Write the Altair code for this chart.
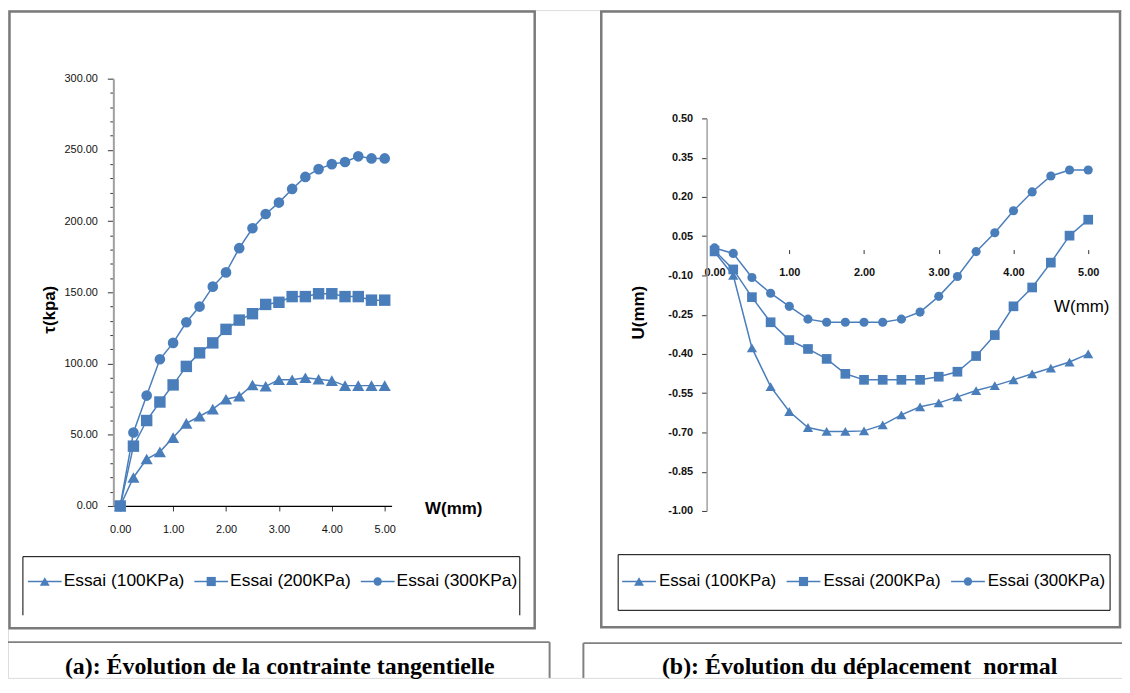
import altair as alt
import pandas as pd

# ---------------- data ----------------
W = [0.00, 0.25, 0.50, 0.75, 1.00, 1.25, 1.50, 1.75, 2.00, 2.25, 2.50,
     2.75, 3.00, 3.25, 3.50, 3.75, 4.00, 4.25, 4.50, 4.75, 5.00]
SERIES = ["Essai (100KPa)", "Essai (200KPa)", "Essai (300KPa)"]
SHAPES = ["triangle-up", "square", "circle"]

TAU_100 = [0, 20, 33, 38, 48, 58, 63, 68, 75, 77, 85, 84, 88.6, 88.6, 90, 89, 88, 84.5, 84.5, 84.5, 84.5]
TAU_200 = [0, 42, 60, 73, 85, 98, 107.5, 114.5, 124, 130.5, 135, 141.5, 143, 147, 147, 149, 149, 147, 147, 144.5, 144.5]
TAU_300 = [0, 51.6, 77.5, 103, 114.5, 129, 140, 154, 164, 181, 195, 205, 213, 222.6, 231, 236.5, 240, 241.5, 245.5, 244, 244]

U_100 = [-0.01, -0.10, -0.377, -0.525, -0.62, -0.681, -0.696, -0.696, -0.694, -0.671, -0.633,
         -0.602, -0.587, -0.564, -0.54, -0.521, -0.499, -0.476, -0.454, -0.431, -0.40]
U_200 = [-0.005, -0.077, -0.183, -0.279, -0.347, -0.381, -0.419, -0.476, -0.499, -0.499, -0.499,
         -0.499, -0.487, -0.468, -0.408, -0.328, -0.218, -0.146, -0.051, 0.052, 0.113]
U_300 = [0.005, -0.016, -0.108, -0.168, -0.218, -0.267, -0.279, -0.279, -0.279, -0.279, -0.267,
         -0.24, -0.18, -0.104, -0.009, 0.063, 0.147, 0.219, 0.28, 0.303, 0.303]

TAU_TICKS = [0, 50, 100, 150, 200, 250, 300]
TAU_MINOR = [v for v in range(10, 300, 10) if v % 50 != 0]
U_TICKS = [-1.0, -0.85, -0.7, -0.55, -0.4, -0.25, -0.1, 0.05, 0.2, 0.35, 0.5]
W_TICKS = [0, 1, 2, 3, 4, 5]

CAPTION_A = "(a): Évolution de la contrainte tangentielle"
CAPTION_B = "(b): Évolution du déplacement\u00a0 normal"

BLUE = "#4a7ebb"
FONT = "Liberation Sans"
SERIF = "Liberation Serif"

WIDTH, HEIGHT = 1121, 672
M = 8  # page margin


def px(v):
    return v - M


def py(v):
    return v - M


def long(values, col):
    rows = []
    for s, vals in zip(SERIES, values):
        for w, v in zip(W, vals):
            rows.append({"W": w, col: v, "series": s})
    return pd.DataFrame(rows)


dfA = long([TAU_100, TAU_200, TAU_300], "tau")
dfB = long([U_100, U_200, U_300], "U")
one = pd.DataFrame({"k": [0]})
leg_df = pd.DataFrame({"series": SERIES})

NEG_FMT = "datum.value < 0 ? '-' + format(-datum.value, '.2f') : format(datum.value, '.2f')"

# ---------------- panel (a) ----------------
scale_xA = alt.Scale(domain=[-0.13, 5.13], range=[px(114), px(394)], nice=False, zero=False)
scale_yA = alt.Scale(domain=[0, 300], range=[py(507), py(77)], nice=False, zero=False)

axis_xA = alt.Axis(orient="bottom", offset=py(507) - HEIGHT, values=W_TICKS, format=".2f",
                   title="W(mm)", titleX=px(456), titleY=3, titleAlign="center",
                   titleBaseline="middle", titleFontSize=17, titleFontWeight="bold",
                   titleFont=FONT, titleColor="#000",
                   domainColor="#000", domainWidth=1.3, tickColor="#333", tickSize=5,
                   labelPadding=13, labelFontSize=11, labelFont=FONT, labelColor="#111",
                   labelFlush=False, labelOverlap=False, grid=False)
axis_yA = alt.Axis(orient="left", offset=-px(114), values=TAU_TICKS, format=".2f",
                   title="τ(kpa)", titleX=50 - 114, titleY=py(309), titleAngle=270,
                   titleAlign="center", titleBaseline="middle", titleFontSize=17,
                   titleFontWeight="bold", titleFont=FONT, titleColor="#000",
                   domainColor="#a0a0a0", domainWidth=2, tickColor="#333", tickSize=6,
                   labelPadding=10, labelFontSize=11, labelFont=FONT, labelColor="#111",
                   labelFlush=False, labelOverlap=False, grid=False)

xA = alt.X("W:Q", scale=scale_xA, axis=axis_xA)
yA = alt.Y("tau:Q", scale=scale_yA, axis=axis_yA)

panelA = alt.layer(
    alt.Chart(dfA).mark_line(color=BLUE, strokeWidth=1.5).encode(x=xA, y=yA, detail="series:N"),
    alt.Chart(dfA).mark_point(filled=True, opacity=1, color=BLUE).encode(
        x=xA, y=yA,
        shape=alt.Shape("series:N", scale=alt.Scale(domain=SERIES, range=SHAPES), legend=None),
        size=alt.Size("series:O", scale=alt.Scale(domain=SERIES, range=[150, 115, 150]), legend=None),
    ),
)

minorA = alt.Chart(dfA).mark_point(opacity=0).encode(
    y=alt.Y("tau:Q", scale=scale_yA,
            axis=alt.Axis(orient="left", offset=-px(114), values=TAU_MINOR, labels=False,
                          domain=False, tickSize=3.5, tickColor="#333", title="", grid=False))
)

# ---------------- panel (b) ----------------
scale_xB = alt.Scale(domain=[0, 5], range=[px(719), px(1095)], nice=False, zero=False)
scale_yB = alt.Scale(domain=[-1, 0.5], range=[py(512), py(117)], nice=False, zero=False)

axis_xB = alt.Axis(orient="bottom", offset=py(249) - HEIGHT, values=W_TICKS, format=".2f",
                   title="W(mm)", titleX=px(1088), titleY=306 - 249, titleAlign="center",
                   titleBaseline="middle", titleFontSize=17, titleFontWeight="normal",
                   titleFont=FONT, titleColor="#000",
                   domain=False, tickColor="#333", tickSize=4,
                   labelPadding=13, labelFontSize=11, labelFont=FONT, labelColor="#111",
                   labelFontWeight="bold", labelFlush=False, labelOverlap=False, grid=False)
axis_yB = alt.Axis(orient="left", offset=-px(711), values=U_TICKS, labelExpr=NEG_FMT,
                   title="U(mm)", titleX=642 - 711, titleY=py(312), titleAngle=270,
                   titleAlign="center", titleBaseline="middle", titleFontSize=17,
                   titleFontWeight="bold", titleFont=FONT, titleColor="#000",
                   domainColor="#a0a0a0", domainWidth=1.5, tickColor="#333", tickSize=5,
                   labelPadding=9, labelFontSize=11, labelFont=FONT, labelColor="#111",
                   labelFontWeight="bold", labelFlush=False, labelOverlap=False, grid=False)

xB = alt.X("W:Q", scale=scale_xB, axis=axis_xB)
yB = alt.Y("U:Q", scale=scale_yB, axis=axis_yB)

panelB = alt.layer(
    alt.Chart(dfB).mark_line(color=BLUE, strokeWidth=1.5).encode(x=xB, y=yB, detail="series:N"),
    alt.Chart(dfB).mark_point(filled=True, opacity=1, color=BLUE).encode(
        x=xB, y=yB,
        shape=alt.Shape("series:N", scale=alt.Scale(domain=SERIES, range=SHAPES), legend=None),
        size=alt.Size("series:O", scale=alt.Scale(domain=SERIES, range=[105, 85, 110]), legend=None),
    ),
)


# ---------------- legends ----------------
def legend(x_first, x_last, y, dx, fsize):
    lx = alt.X("series:N", scale=alt.Scale(type="point", domain=SERIES,
                                           range=[px(x_first), px(x_last)], padding=0), axis=None)
    return alt.layer(
        alt.Chart(leg_df).mark_tick(orient="horizontal", size=34, thickness=1.5, color=BLUE,
                                    opacity=1).encode(x=lx, y=alt.value(py(y))),
        alt.Chart(leg_df).mark_point(filled=True, opacity=1, color=BLUE).encode(
            x=lx, y=alt.value(py(y)),
            shape=alt.Shape("series:N", scale=alt.Scale(domain=SERIES, range=SHAPES), legend=None),
            size=alt.Size("series:O", scale=alt.Scale(domain=SERIES, range=[100, 70, 80]), legend=None)),
        alt.Chart(leg_df).mark_text(align="left", baseline="middle", dx=dx, fontSize=fsize,
                                    font=FONT, color="#000").encode(
            x=lx, y=alt.value(py(y)), text="series:N"),
    )


legendA = legend(45, 380, 583, 19, 17.5)
legendB = legend(643, 974, 583, 20, 17)


# ---------------- decorations ----------------
def rect(x1, y1, x2, y2, color, width):
    return alt.Chart(one).mark_rect(fillOpacity=0, stroke=color, strokeWidth=width).encode(
        x=alt.value(px(x1)), x2=alt.value(px(x2)), y=alt.value(py(y1)), y2=alt.value(py(y2)))


def hline(x1, x2, y, color, width):
    return alt.Chart(one).mark_rule(color=color, strokeWidth=width).encode(
        x=alt.value(px(x1)), x2=alt.value(px(x2)), y=alt.value(py(y)))


def vline(x, y1, y2, color, width):
    return alt.Chart(one).mark_rule(color=color, strokeWidth=width).encode(
        x=alt.value(px(x)), y=alt.value(py(y1)), y2=alt.value(py(y2)))


def caption(text, x, y):
    return alt.Chart(one).mark_text(font=SERIF, fontSize=24, fontWeight="bold", color="#000",
                                    align="center", baseline="middle").encode(
        x=alt.value(px(x)), y=alt.value(py(y)), text=alt.value(text))


BOTTOM = M + HEIGHT
decor = [
    rect(9.5, 9.5, 538, 630, "#7a7a7a", 2.5),
    rect(605, 9.5, 1127, 629, "#7a7a7a", 2.5),
    # legend box (a): open at the bottom
    hline(23, 523, 558, "#000", 1),
    vline(23, 558, 617, "#000", 1),
    vline(523, 558, 617, "#000", 1),
    # legend box (b)
    rect(622, 556, 1117, 612, "#000", 1),
    # caption boxes
    hline(M, 553, 644, "#808080", 2),
    vline(553, 644, BOTTOM, "#808080", 2),
    hline(587, BOTTOM + 500, 645, "#808080", 2),
    vline(587, 645, BOTTOM, "#808080", 2),
    caption(CAPTION_A, 281.5, 669),
    caption(CAPTION_B, 865, 669),
]

chart = alt.layer(
    *decor, minorA, panelA, panelB, legendA, legendB
).resolve_scale(
    x="independent", y="independent", shape="independent", size="independent"
).properties(
    width=WIDTH, height=HEIGHT, padding=0,
    autosize=alt.AutoSizeParams(type="none"),
).configure_view(stroke="transparent", strokeWidth=0).configure(background="white")

chart.save("out.html", embed_options={"renderer": "svg", "actions": False})
